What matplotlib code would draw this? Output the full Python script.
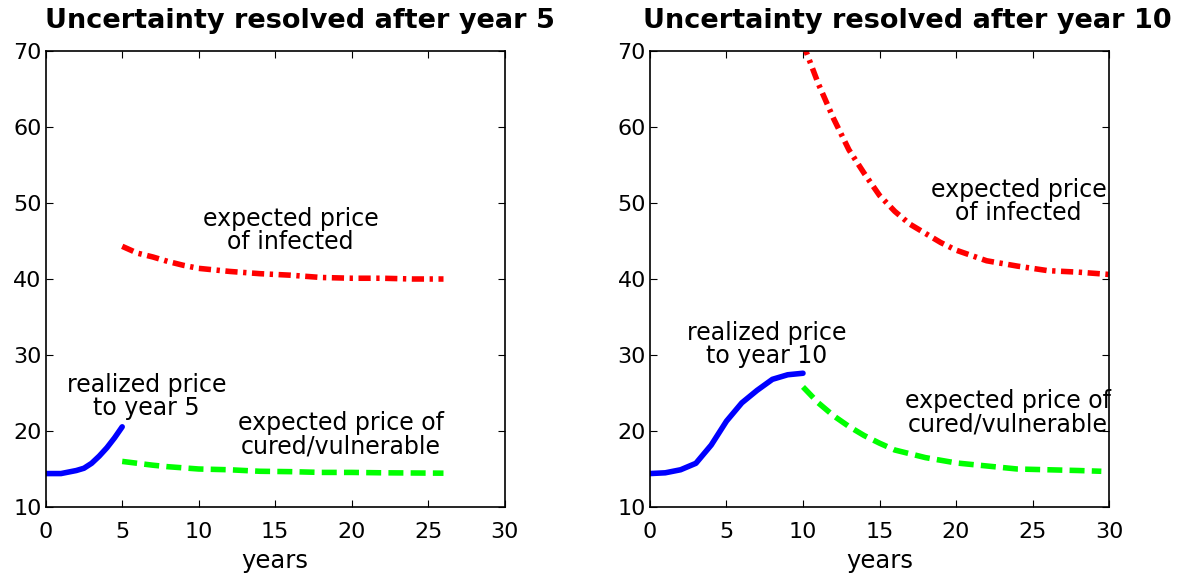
import matplotlib
matplotlib.use("Agg")
import matplotlib.pyplot as plt

plt.rcParams['font.family'] = ['DejaVu Sans']

# left panel: uncertainty resolved after year 5
left_blue_x = [0, 1, 2, 2.5, 3, 3.5, 4, 4.5, 5]
left_blue_y = [14.4, 14.4, 14.8, 15.1, 15.75, 16.7, 17.8, 19.1, 20.55]
left_red_x = [5, 6, 7, 8, 9, 10, 11, 12, 14, 16, 18, 20, 22, 24, 26]
left_red_y = [44.3, 43.4, 42.9, 42.3, 41.8, 41.4, 41.2, 41.0, 40.7, 40.5, 40.2, 40.1, 40.1, 40.0, 40.0]
left_green_x = [5, 6, 7, 8, 10, 12, 14, 16, 18, 20, 22, 26]
left_green_y = [16.0, 15.75, 15.5, 15.3, 15.0, 14.9, 14.7, 14.65, 14.55, 14.55, 14.5, 14.45]

# right panel: uncertainty resolved after year 10
right_blue_x = [0, 1, 2, 3, 4, 5, 6, 7, 8, 9, 10]
right_blue_y = [14.4, 14.5, 14.9, 15.75, 18.15, 21.3, 23.7, 25.35, 26.8, 27.4, 27.6]
right_red_x = [10, 11, 12, 13, 14, 15, 16, 17, 18, 19, 20, 22, 24, 26, 28, 30]
right_red_y = [71.0, 65.7, 61.1, 57.0, 53.9, 51.0, 48.9, 47.2, 46.0, 44.8, 43.8, 42.4, 41.7, 41.1, 40.9, 40.6]
right_green_x = [10, 11, 12, 13, 14, 15, 16, 17, 18, 20, 22, 24, 26, 28, 29.5]
right_green_y = [25.8, 23.7, 22.0, 20.6, 19.4, 18.4, 17.5, 17.0, 16.5, 15.8, 15.4, 15.0, 14.9, 14.8, 14.7]

W, H = 1182, 575
fig = plt.figure(figsize=(W / 100, H / 100), dpi=100)
ax1 = fig.add_axes([45.7 / W, 1 - 507 / H, 459 / W, 456 / H])
ax2 = fig.add_axes([650 / W, 1 - 507 / H, 459 / W, 456 / H])

RED_STYLE = (0, (2.2, 1.0, 0.6, 1.0))
GREEN_STYLE = (0, (2.7, 1.3))
LW = 4


def style_axes(ax):
    ax.set_xlim(0, 30)
    ax.set_ylim(10, 70)
    ax.set_xticks(range(0, 31, 5))
    ax.set_yticks(range(10, 71, 10))
    ax.tick_params(direction='in', length=5, top=True, right=True, labelsize=16)
    ax.tick_params(axis='x', pad=11)
    ax.tick_params(axis='y', pad=3)
    for sp in ax.spines.values():
        sp.set_linewidth(1.2)
    ax.set_xlabel('years', fontsize=17.5, labelpad=5)


def note(ax, x, y, s):
    # two-line label, y is the baseline of the second line
    ax.text(x, y, s, fontsize=17, ha='center', va='baseline',
            multialignment='center', linespacing=0.95)


ax1.plot(left_blue_x, left_blue_y, color='#0000ff', lw=LW, solid_capstyle='round')
ax1.plot(left_red_x, left_red_y, color='#ff0000', lw=LW, linestyle=RED_STYLE)
ax1.plot(left_green_x, left_green_y, color='#00ff00', lw=LW, linestyle=GREEN_STYLE)
style_axes(ax1)
note(ax1, 16.0, 43.9, 'expected price\nof infected')
note(ax1, 6.6, 22.1, 'realized price\nto year 5')
note(ax1, 19.3, 17.1, 'expected price of\ncured/vulnerable')

ax2.plot(right_blue_x, right_blue_y, color='#0000ff', lw=LW, solid_capstyle='round')
ax2.plot(right_red_x, right_red_y, color='#ff0000', lw=LW, linestyle=RED_STYLE)
ax2.plot(right_green_x, right_green_y, color='#00ff00', lw=LW, linestyle=GREEN_STYLE)
style_axes(ax2)
note(ax2, 24.1, 47.8, 'expected price\nof infected')
note(ax2, 7.6, 29.0, 'realized price\nto year 10')
note(ax2, 23.4, 20.0, 'expected price of\ncured/vulnerable')

# titles start a touch left of each axes frame
fig.text(45 / W, 1 - 28 / H, 'Uncertainty resolved after year 5',
         fontsize=19.5, fontweight='bold', ha='left', va='baseline')
fig.text(643 / W, 1 - 28 / H, 'Uncertainty resolved after year 10',
         fontsize=19.5, fontweight='bold', ha='left', va='baseline')

fig.savefig('out.png', dpi=100)
